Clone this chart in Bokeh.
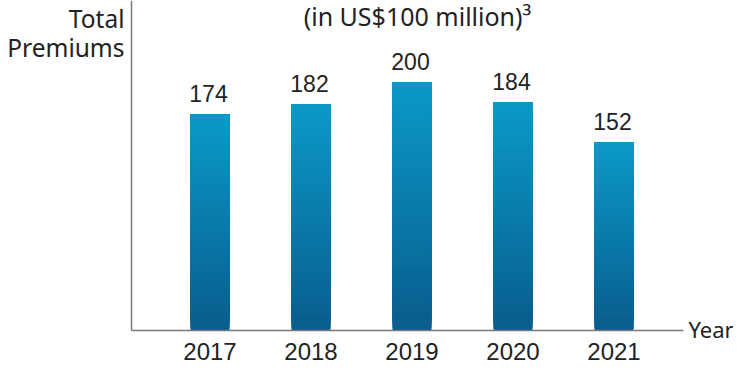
from bokeh.plotting import figure
from bokeh.models import ColumnDataSource, Range1d
from bokeh.core.properties import value
from bokeh.embed import file_html
from bokeh.resources import INLINE

# ---- data ----
years = [2017, 2018, 2019, 2020, 2021]
premiums = [174, 182, 200, 184, 152]
year_labels = ["2017", "2018", "2019", "2020", "2021"]

# ---- layout (canvas pixel mapping) ----
W, H = 733, 366
px_per_year = 101.0
px_per_unit = 1.24
first_center_px = 209.5
axis_y_px = 330.0
text_shift = 10.0  # svg baseline compensation (px)

def xd(px):
    return years[0] + (px - first_center_px) / px_per_year

def yd(py):
    return (axis_y_px - py) / px_per_unit

def yt(py):
    return yd(py - text_shift)

p = figure(width=W, height=H, output_backend="svg", toolbar_location=None,
           x_range=Range1d(xd(0), xd(W)), y_range=Range1d(yd(H), yd(0)),
           min_border_left=0, min_border_right=0,
           min_border_top=0, min_border_bottom=0)
p.outline_line_color = None
p.axis.visible = False
p.xgrid.visible = False
p.ygrid.visible = False
p.background_fill_color = "white"
p.border_fill_color = "white"

# gradient bars: overlapping slices from each bar's value
def hex2rgb(h):
    h = h.lstrip("#")
    return tuple(int(h[i:i + 2], 16) for i in (0, 2, 4))

top_c = hex2rgb("#0a99c8")
bot_c = hex2rgb("#095d8d")
N = 80
xs, bots, tops, cols = [], [], [], []
for i in range(N):
    t = i / (N - 1)
    c = tuple(int(round(bot_c[k] + (top_c[k] - bot_c[k]) * t)) for k in range(3))
    for yr, v in zip(years, premiums):
        xs.append(yr)
        bots.append(v * i / N)
        tops.append(v)
        cols.append("#%02x%02x%02x" % c)
p.vbar(x=xs, bottom=bots, top=tops, width=39 / px_per_year,
       fill_color=cols, line_color=None)

# axes lines
axis_col = "#7a7a7a"
p.segment(x0=[xd(131)], y0=[yd(0)], x1=[xd(131)], y1=[yd(330)],
          line_color=axis_col, line_width=1.5)
p.segment(x0=[xd(131)], y0=[yd(330)], x1=[xd(683)], y1=[yd(330)],
          line_color=axis_col, line_width=1.5)

# x tick labels
p.text(x=years, y=[yt(361)] * len(years), text=year_labels,
       text_align="center", text_baseline="alphabetic",
       text_font=value("Liberation Sans"), text_font_size="24px",
       text_color="#222222")

# value labels (11 px above bar top)
pad = (11 + text_shift) / px_per_unit
src = ColumnDataSource(dict(x=years, y=[v + pad for v in premiums],
                            t=[str(v) for v in premiums]))
p.text(x="x", y="y", text="t", source=src, text_align="center",
       text_baseline="alphabetic", text_font=value("Liberation Sans"),
       text_font_size="23px", text_color="#222222", x_offset=-1.5)

font = value("Noto Sans")
p.text(x=[xd(124)], y=[yt(27.5)], text=["Total"], text_align="right",
       text_baseline="alphabetic", text_font=font,
       text_font_size="24.5px", text_color="#222222")
p.text(x=[xd(124)], y=[yt(57)], text=["Premiums"], text_align="right",
       text_baseline="alphabetic", text_font=font,
       text_font_size="24.5px", text_color="#222222")
p.text(x=[xd(417)], y=[yt(25)], text=["(in US$100 million)³"],
       text_align="center", text_baseline="alphabetic",
       text_font=font, text_font_size="25px", text_color="#222222")
p.text(x=[xd(688)], y=[yt(338)], text=["Year"], text_align="left",
       text_baseline="alphabetic", text_font=font,
       text_font_size="22px", text_color="#222222")

open("out.html", "w").write(file_html(p, INLINE))
